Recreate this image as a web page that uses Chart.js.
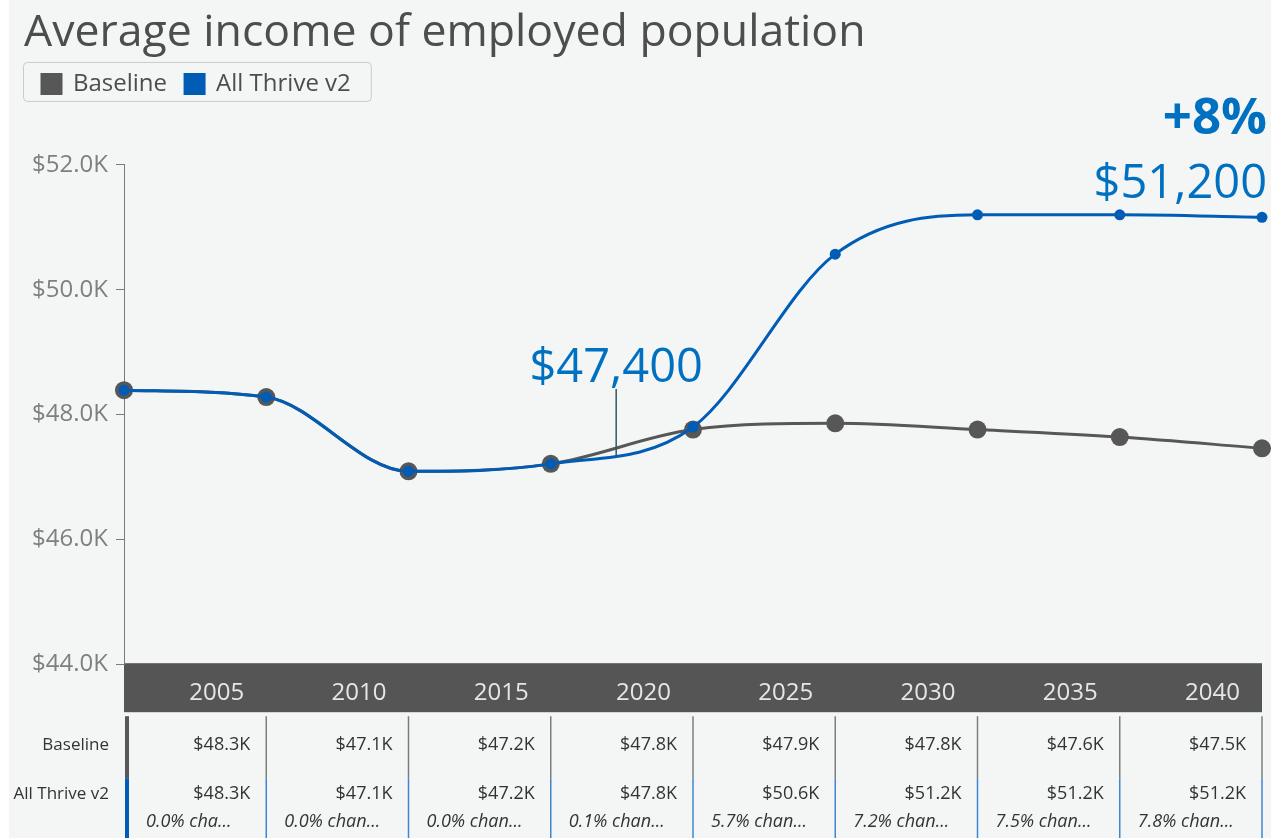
<!DOCTYPE html>
<html>
<head>
<meta charset="utf-8">
<title>Average income of employed population</title>
<script src="https://cdn.jsdelivr.net/npm/chart.js@4.4.1/dist/chart.umd.min.js"></script>
<style>
  html, body { margin: 0; padding: 0; background: #fff; }
  #wrap { width: 1271px; height: 838px; position: relative; }
</style>
</head>
<body>
<div id="wrap"><canvas id="incomeChart"></canvas></div>
<script>
// Average income, thousands of dollars, per 5-year step
const years = [2000, 2005, 2010, 2015, 2020, 2025, 2030, 2035, 2040];
const baselineIncome = [48.39, 48.28, 47.09, 47.21, 47.76, 47.86, 47.76, 47.64, 47.46];
const thriveIncome = [48.39, 48.28, 47.09, 47.21, 47.80, 50.57, 51.20, 51.20, 51.16];
const yTicks = [44, 46, 48, 50, 52];

// callout on the scenario line
const calloutYear = 2017.3;
const calloutValue = 47.4;

const GREY = '#575757';
const BLUE = '#005cb5';
const TEXT_BLUE = '#0070c0';
const PANEL = '#f4f6f6';
const FONT = "'Open Sans', 'Noto Sans', sans-serif";

Chart.defaults.font.family = FONT;

const fmtK = v => '$' + v.toFixed(1) + 'K';
const fmtDollars = v => '$' + (Math.round(v * 10) * 100).toLocaleString('en-US');
const pctChange = (a, b) => (a / b - 1) * 100;

function fitText(ctx, text, maxW) {
    if (ctx.measureText(text).width <= maxW) return text;
    let s = text;
    while (s.length && ctx.measureText(s + '...').width > maxW) s = s.slice(0, -1);
    return s.trimEnd() + '...';
}

// panel background, legend frame and the dark band behind the year labels
const panelPlugin = {
    id: 'panel',
    beforeDraw(chart) {
        const { ctx, width, height, chartArea } = chart;
        ctx.save();
        ctx.fillStyle = '#fff';
        ctx.fillRect(0, 0, width, height);
        ctx.fillStyle = PANEL;
        ctx.fillRect(9, 0, width - 9, height);

        const hb = chart.legend.legendHitBoxes;
        if (hb && hb.length) {
            const last = hb[hb.length - 1];
            const l = hb[0].left - 19, t = hb[0].top - 10;
            const r = last.left + last.width + 20, b = hb[0].top + hb[0].height + 5;
            ctx.beginPath();
            ctx.roundRect(l + 0.5, t + 0.5, r - l, b - t, 4);
            ctx.strokeStyle = '#c9cbcb';
            ctx.lineWidth = 1;
            ctx.stroke();
        }

        ctx.fillStyle = '#555555';
        ctx.fillRect(chartArea.left, chartArea.bottom - 1, chartArea.right - chartArea.left, 49);
        ctx.restore();
    }
};

// value labels: callout, end value and overall change
const calloutPlugin = {
    id: 'callouts',
    afterDatasetsDraw(chart) {
        const { ctx, scales: { x, y } } = chart;
        ctx.save();
        ctx.fillStyle = TEXT_BLUE;

        const cx = x.getPixelForValue(calloutYear);
        const cy = y.getPixelForValue(calloutValue);
        ctx.strokeStyle = '#2f5866';
        ctx.lineWidth = 1.5;
        ctx.beginPath();
        ctx.moveTo(cx, cy - 63);
        ctx.lineTo(cx, cy + 4);
        ctx.stroke();
        ctx.font = '47px ' + FONT;
        ctx.textAlign = 'center';
        ctx.textBaseline = 'alphabetic';
        ctx.fillText(fmtDollars(calloutValue), cx, cy - 70);

        const n = years.length - 1;
        const ex = x.getPixelForValue(years[n]) + 5;
        const ey = y.getPixelForValue(thriveIncome[n]);
        ctx.textAlign = 'right';
        ctx.fillText(fmtDollars(thriveIncome[n]), ex, ey - 19);
        ctx.font = 'bold 51px ' + FONT;
        const change = Math.round(pctChange(thriveIncome[n], baselineIncome[n]));
        ctx.fillText((change >= 0 ? '+' : '') + change + '%', ex, ey - 83);
        ctx.restore();
    }
};

// data table under the axis, one column per 5-year step
const tablePlugin = {
    id: 'dataTable',
    afterDraw(chart) {
        const { ctx, height, chartArea, scales: { x } } = chart;
        const top = chartArea.bottom + 52;
        const split = top + 62;
        ctx.save();

        ctx.fillStyle = GREY;
        ctx.fillRect(chartArea.left + 1, top, 4, split - top);
        ctx.fillStyle = BLUE;
        ctx.fillRect(chartArea.left + 1, split, 4, height - split);

        ctx.font = '17px ' + FONT;
        ctx.fillStyle = '#333';
        ctx.textAlign = 'right';
        ctx.textBaseline = 'middle';
        ctx.fillText('Baseline', chartArea.left - 15, top + 29);
        ctx.fillText('All Thrive v2', chartArea.left - 15, top + 78);

        for (let i = 1; i < years.length; i++) {
            const x0 = x.getPixelForValue(years[i - 1]);
            const x1 = x.getPixelForValue(years[i]);

            ctx.lineWidth = 1.5;
            ctx.strokeStyle = '#7d7d7d';
            ctx.beginPath();
            ctx.moveTo(x1, top);
            ctx.lineTo(x1, split);
            ctx.stroke();
            ctx.strokeStyle = '#3f86d2';
            ctx.beginPath();
            ctx.moveTo(x1, split);
            ctx.lineTo(x1, height);
            ctx.stroke();

            ctx.font = '18px ' + FONT;
            ctx.fillStyle = '#333';
            ctx.textAlign = 'right';
            ctx.fillText(fmtK(baselineIncome[i]), x1 - 16, top + 29);
            ctx.fillText(fmtK(thriveIncome[i]), x1 - 16, top + 78);

            ctx.font = 'italic 18px ' + FONT;
            ctx.textAlign = 'left';
            const start = x0 + 18 + (i === 1 ? 4 : 0);
            const room = x1 - start - (i === 1 ? 26 : 20);
            const txt = pctChange(thriveIncome[i], baselineIncome[i]).toFixed(1) + '% change vs Baseline';
            ctx.fillText(fitText(ctx, txt, room), start, top + 106);
        }
        ctx.restore();
    }
};

// extra room between the legend and the plot
const legendSpacing = {
    id: 'legendSpacing',
    beforeInit(chart) {
        const fit = chart.legend.fit;
        chart.legend.fit = function () {
            fit.call(this);
            this.height += 59;
        };
    }
};

new Chart(document.getElementById('incomeChart'), {
    type: 'line',
    data: {
        datasets: [
            {
                label: 'Baseline',
                data: years.map((yr, i) => ({ x: yr, y: baselineIncome[i] })),
                borderColor: GREY,
                backgroundColor: GREY,
                borderWidth: 3,
                pointRadius: 9,
                pointBorderWidth: 0,
                cubicInterpolationMode: 'monotone',
                clip: false,
                order: 2
            },
            {
                label: 'All Thrive v2',
                data: years.map((yr, i) => ({ x: yr, y: thriveIncome[i] })),
                borderColor: BLUE,
                backgroundColor: BLUE,
                borderWidth: 3,
                pointRadius: 5.5,
                pointBorderWidth: 0,
                cubicInterpolationMode: 'monotone',
                clip: false,
                order: 1
            }
        ]
    },
    options: {
        responsive: true,
        maintainAspectRatio: false,
        animation: false,
        events: [],
        layout: { padding: { left: 24, right: 9, top: 0, bottom: 115 } },
        plugins: {
            title: {
                display: true,
                text: 'Average income of employed population',
                align: 'start',
                color: '#4d4d4d',
                font: { size: 44.6, weight: 'normal', lineHeight: 0.94 },
                padding: { top: 12, bottom: 0 }
            },
            legend: {
                position: 'top',
                align: 'start',
                labels: {
                    boxWidth: 19,
                    boxHeight: 19,
                    padding: 18,
                    color: '#4d4d4d',
                    font: { size: 24 },
                    sort: (a, b) => a.datasetIndex - b.datasetIndex
                }
            },
            tooltip: { enabled: false }
        },
        scales: {
            x: {
                type: 'linear',
                min: years[0],
                max: years[years.length - 1],
                afterBuildTicks: s => { s.ticks = years.map(v => ({ value: v })); },
                afterFit: s => { s.paddingLeft = 0; s.paddingRight = 0; },
                grid: { display: false, drawTicks: false },
                border: { display: false },
                ticks: {
                    autoSkip: false,
                    maxRotation: 0,
                    align: 'end',
                    labelOffset: -22,
                    padding: 15,
                    color: '#e6e6e6',
                    font: { size: 24 },
                    callback: v => (v === years[0] ? '' : String(v))
                }
            },
            y: {
                min: yTicks[0],
                max: yTicks[yTicks.length - 1],
                afterBuildTicks: s => { s.ticks = yTicks.map(v => ({ value: v })); },
                afterFit: s => { s.width = 100; },
                grid: { drawOnChartArea: false, drawTicks: true, tickLength: 8, color: '#7a7a7a' },
                border: { display: true, color: '#7a7a7a', width: 1 },
                ticks: {
                    padding: 8,
                    color: '#7f7f7f',
                    font: { size: 24 },
                    callback: v => fmtK(v)
                }
            }
        }
    },
    plugins: [legendSpacing, panelPlugin, calloutPlugin, tablePlugin]
});
</script>
</body>
</html>
